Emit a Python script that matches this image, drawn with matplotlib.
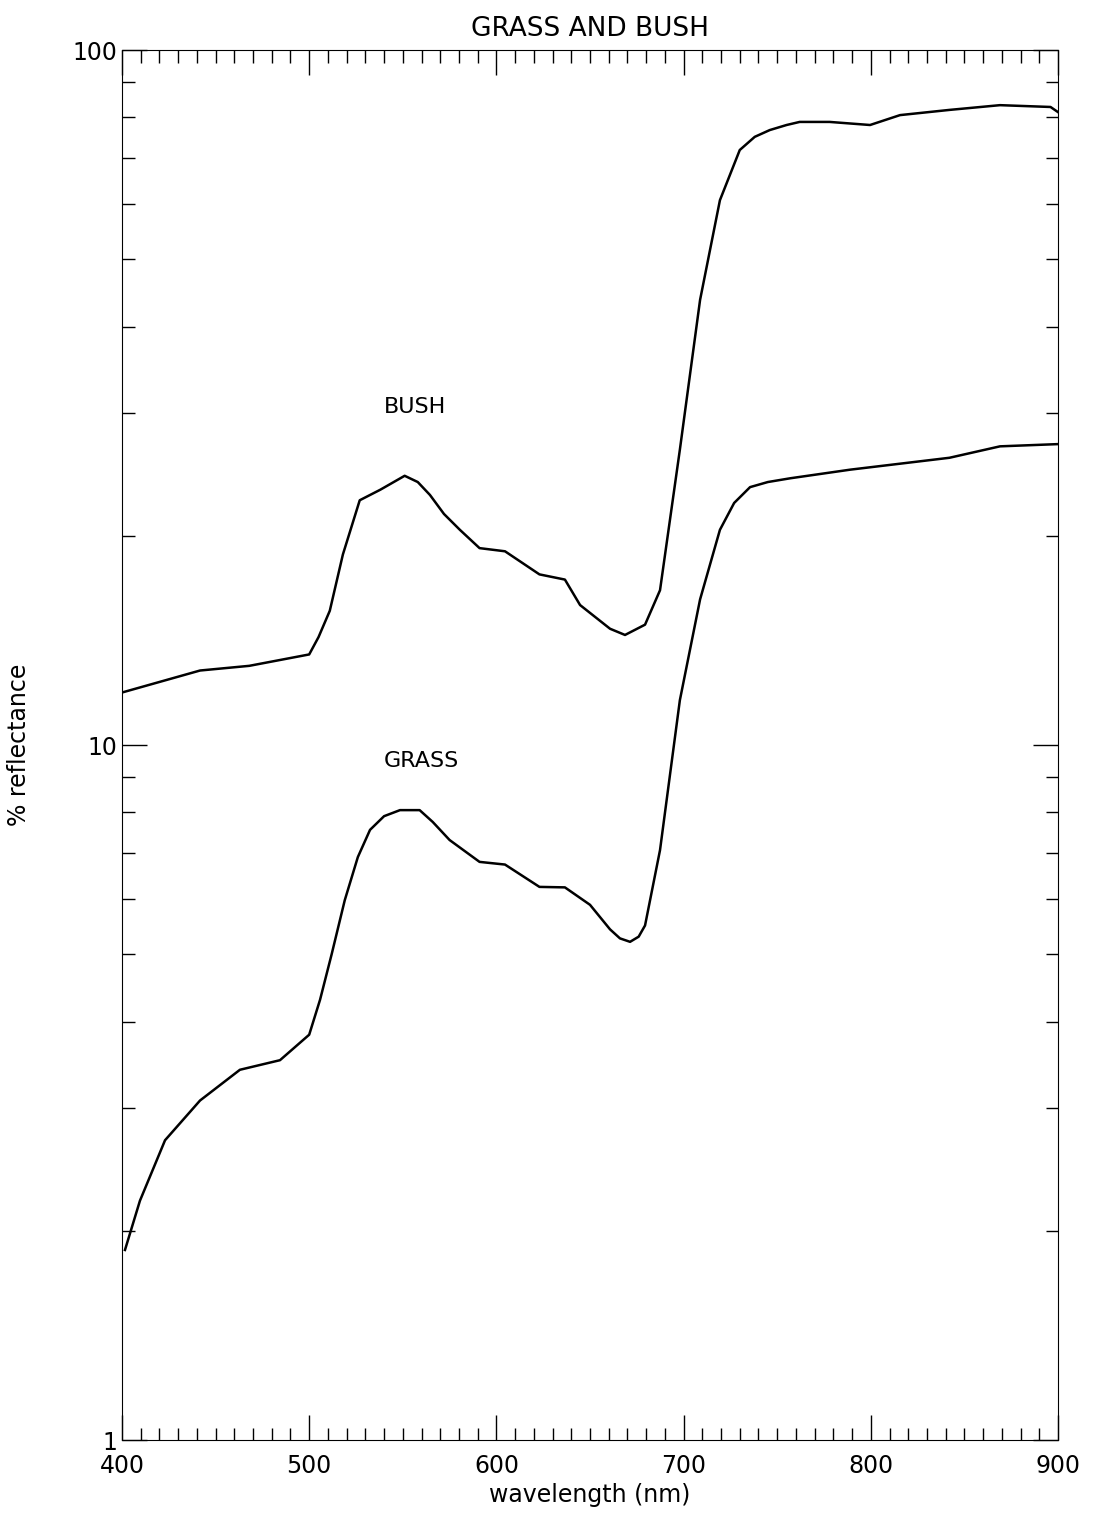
import matplotlib
matplotlib.use("Agg")
import matplotlib.pyplot as plt
from matplotlib.ticker import MultipleLocator, LogLocator, NullFormatter, FixedLocator, FixedFormatter

bush_nm = [400, 441.7, 468, 500, 505, 511, 518, 527, 538, 551, 558, 564.5, 572, 580.5, 591, 604.6, 623, 636.6, 644.7, 660.7, 668.7, 679.4, 687.4, 698, 708.8, 719.4, 730, 738, 746, 755, 762, 778, 799.6, 815.6, 842, 869, 896, 900]
bush_r = [11.9, 12.8, 13.0, 13.5, 14.3, 15.6, 18.8, 22.5, 23.3, 24.4, 23.9, 22.9, 21.5, 20.4, 19.2, 19.0, 17.6, 17.3, 15.9, 14.7, 14.4, 14.9, 16.7, 26.6, 43.7, 60.8, 71.8, 75.0, 76.7, 78.0, 78.8, 78.8, 78.0, 80.6, 82.0, 83.3, 82.8, 81.4]
grass_nm = [401.6, 409.6, 423, 441.7, 463, 484.4, 500, 505.8, 512, 519, 526, 532.5, 540, 548.5, 559, 566, 575, 591, 604.6, 623, 636.6, 650, 660.7, 666, 671.4, 676, 679.4, 687.4, 698, 708.8, 719.4, 727, 735.5, 745, 757, 789, 842, 869, 900]
grass_r = [1.877, 2.21, 2.70, 3.08, 3.41, 3.52, 3.83, 4.30, 5.0, 5.98, 6.9, 7.55, 7.9, 8.06, 8.06, 7.75, 7.30, 6.79, 6.73, 6.25, 6.24, 5.89, 5.43, 5.27, 5.21, 5.3, 5.5, 7.06, 11.6, 16.2, 20.4, 22.3, 23.5, 23.9, 24.2, 24.9, 25.9, 26.9, 27.1]

fig = plt.figure(figsize=(10.93, 15.2), dpi=100)
ax = fig.add_axes([0.1116, 0.0526, 0.8564, 0.9145])
ax.plot(bush_nm, bush_r, color="black", lw=1.8)
ax.plot(grass_nm, grass_r, color="black", lw=1.8)
ax.set_yscale("log")
ax.set_xlim(400, 900)
ax.set_ylim(1, 100)
ax.xaxis.set_major_locator(MultipleLocator(100))
ax.xaxis.set_minor_locator(MultipleLocator(10))
ax.yaxis.set_major_locator(FixedLocator([1, 10, 100]))
ax.yaxis.set_major_formatter(FixedFormatter(["1", "10", "100"]))
ax.yaxis.set_minor_locator(LogLocator(base=10, subs=range(2, 10)))
ax.yaxis.set_minor_formatter(NullFormatter())
ax.tick_params(which="both", direction="in", top=True, right=True, labelsize=17)
ax.tick_params(which="major", length=18, width=1)
ax.tick_params(which="minor", length=9, width=1)
ax.tick_params(axis="x", which="major", pad=10)
ax.set_xlabel("wavelength (nm)", fontsize=17)
ax.set_ylabel("% reflectance", fontsize=17, labelpad=30)
ax.set_title("GRASS AND BUSH", fontsize=19, pad=10)
ax.text(540, 30, "BUSH", fontsize=16)
ax.text(540, 9.3, "GRASS", fontsize=16)
fig.savefig("out.png", dpi=100)
